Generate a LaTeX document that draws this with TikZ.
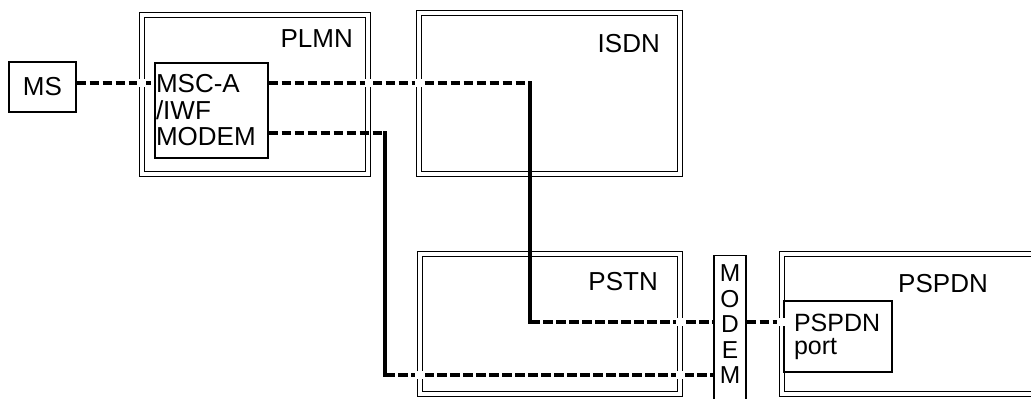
\documentclass[tikz,border=0pt]{standalone}
\usepackage{fontspec}
\setmainfont{Liberation Sans}

\begin{document}
\begin{tikzpicture}[x=1pt, y=-1pt,
  netbox/.style={draw=black, double, line width=1.1pt, double distance=3.6pt, inner sep=0pt},
  unit/.style={draw=black, line width=1.2pt, inner sep=0pt},
  link/.style={line width=3.2pt, dash pattern=on 9.5pt off 3.5pt},
  trunk/.style={line width=3.2pt, line cap=rect},
  title/.style={anchor=base east, inner sep=0pt, font=\fontsize{26}{27}\selectfont},
  gap/.style={fill=white}]
  \useasboundingbox (0,0) rectangle (1031,399);

  % Networks (double frames)
  \node[netbox, minimum width=226pt, minimum height=159pt] (plmn) at (255,94.5) {};
  \node[netbox, minimum width=261pt, minimum height=161pt] (isdn) at (549.5,93.5) {};
  \node[netbox, minimum width=260pt, minimum height=140pt] (pstn) at (550,324) {};
  \node[netbox, minimum width=300pt, minimum height=140pt] (pspdn) at (932,324) {};

  % Network names
  \node[title] (plmnlbl) at (353,47) {PLMN};
  \node[title] (isdnlbl) at (660,52) {ISDN};
  \node[title] (pstnlbl) at (658,290) {PSTN};
  \node[title] (pspdnlbl) at (988,292) {PSPDN};

  % Units
  \node[unit, minimum width=67pt, minimum height=50pt,
    font=\fontsize{26}{27}\selectfont] (ms) at (42.5,87) {MS};
  \node[unit, minimum width=113pt, minimum height=95pt, text width=111pt,
    inner xsep=1pt, align=left, font=\fontsize{26}{26.5}\selectfont]
    (msc) at (211.5,110.5) {MSC-A\\/IWF\\MODEM};
  \node[unit, minimum width=108pt, minimum height=71pt, text width=88pt,
    inner xsep=10pt, align=left, font=\fontsize{25}{23}\selectfont]
    (port) at (838,336.5) {PSPDN\\port};
  \node[unit, minimum width=32pt, minimum height=170pt, anchor=north] (modem) at (730,255) {};
  \node[anchor=north, inner sep=0pt, align=center, font=\fontsize{24.5}{25.5}\selectfont]
    (modemlbl) at ([yshift=-9.5pt]modem.north) {M\\O\\D\\E\\M};

  % Rows and bends of the connections
  \coordinate (rowA) at (0,83);
  \coordinate (rowB) at (0,133);
  \coordinate (rowC) at (0,322);
  \coordinate (rowD) at (0,375);
  \coordinate (isdnbend) at (530,83);
  \coordinate (pstnbend) at (530,322);
  \coordinate (plmnbend) at (385,133);
  \coordinate (lowbend) at (385,375);

  % Connections
  \draw[link] (ms.east |- rowA) -- (msc.west |- rowA);
  \draw[link] (msc.east |- rowA) -- (isdnbend);
  \draw[trunk] (isdnbend) -- (pstnbend);
  \draw[link] (pstnbend) -- (modem.west |- rowC);
  \draw[link] (msc.east |- rowB) -- (plmnbend);
  \draw[trunk] (plmnbend) -- (lowbend);
  \draw[link] (lowbend) -- (modem.west |- rowD);
  \draw[link] (modem.east |- rowC) -- (port.west |- rowC);

  % Breaks where lines pass the frames
  \fill[gap] (137,79) rectangle (146,87);
  \fill[gap] (365,79) rectangle (373,87);
  \fill[gap] (415,79) rectangle (424,87);
  \fill[gap] (676,318) rectangle (685,326);
  \fill[gap] (415,371) rectangle (425,379);
  \fill[gap] (676,371) rectangle (685,379);
  \fill[gap] (777,318) rectangle (787,326);
\end{tikzpicture}
\end{document}
